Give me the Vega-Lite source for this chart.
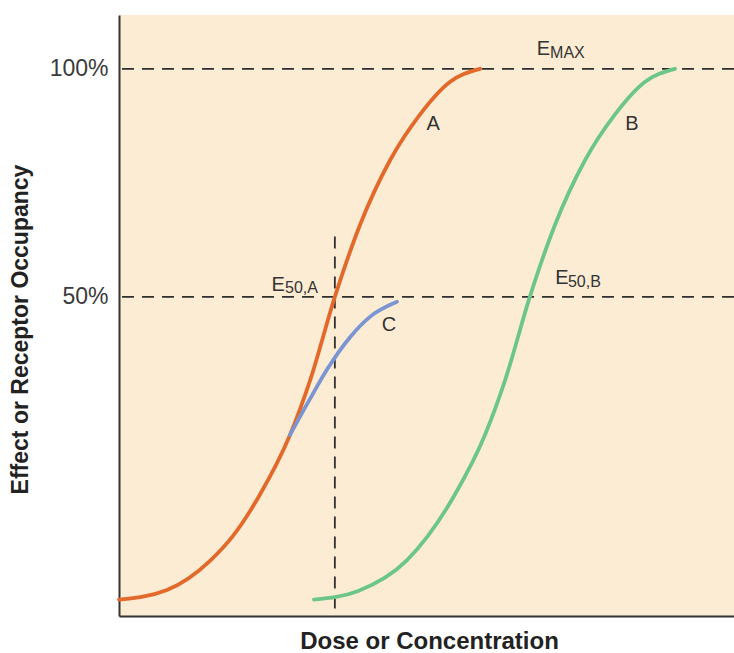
{
  "$schema": "https://vega.github.io/schema/vega-lite/v6.json",
  "width": 615,
  "height": 601,
  "autosize": {"type": "none"},
  "padding": {"left": 119, "top": 15, "right": 0, "bottom": 37},
  "background": "white",
  "config": {
    "view": {"fill": "#fdecd4", "stroke": null},
    "font": "Liberation Sans"
  },
  "datasets": {
    "curves": [
      {"series": "A", "dose": 0, "effect": -16.4},
      {"series": "A", "dose": 7.8, "effect": -14.3},
      {"series": "A", "dose": 14.8, "effect": -7.9},
      {"series": "A", "dose": 18.5, "effect": -2.5},
      {"series": "A", "dose": 22.9, "effect": 6.6},
      {"series": "A", "dose": 27.8, "effect": 19.7},
      {"series": "A", "dose": 31.1, "effect": 31.8},
      {"series": "A", "dose": 35.1, "effect": 50.0},
      {"series": "A", "dose": 39.2, "effect": 65.8},
      {"series": "A", "dose": 44.1, "effect": 80.0},
      {"series": "A", "dose": 48.9, "effect": 89.9},
      {"series": "A", "dose": 53.8, "effect": 97.1},
      {"series": "A", "dose": 58.7, "effect": 100},
      {"series": "B", "dose": 31.7, "effect": -16.4},
      {"series": "B", "dose": 38.9, "effect": -14.5},
      {"series": "B", "dose": 46.8, "effect": -7.8},
      {"series": "B", "dose": 50.2, "effect": -2.5},
      {"series": "B", "dose": 54.6, "effect": 6.6},
      {"series": "B", "dose": 59.5, "effect": 19.7},
      {"series": "B", "dose": 62.8, "effect": 31.8},
      {"series": "B", "dose": 66.8, "effect": 50.0},
      {"series": "B", "dose": 70.9, "effect": 65.8},
      {"series": "B", "dose": 75.8, "effect": 80.0},
      {"series": "B", "dose": 80.6, "effect": 89.9},
      {"series": "B", "dose": 85.5, "effect": 97.1},
      {"series": "B", "dose": 90.4, "effect": 100},
      {"series": "C", "dose": 27.8, "effect": 19.7},
      {"series": "C", "dose": 30.8, "effect": 27.0},
      {"series": "C", "dose": 33.8, "effect": 34.0},
      {"series": "C", "dose": 37.6, "effect": 41.2},
      {"series": "C", "dose": 40.8, "effect": 45.6},
      {"series": "C", "dose": 45.2, "effect": 48.9}
    ],
    "hrefs": [{"y": 100}, {"y": 50}],
    "vref": [{"x": 35.1, "y1": 63.2, "y2": -20}],
    "bigtext": [
      {"label": "A", "x": 51.1, "y": 87.9},
      {"label": "B", "x": 83.4, "y": 87.9},
      {"label": "C", "x": 43.9, "y": 43.9},
      {"label": "E", "x": 69.0, "y": 104.4},
      {"label": "E", "x": 25.9, "y": 52.6},
      {"label": "E", "x": 72.0, "y": 54.1}
    ],
    "subtext": [
      {"label": "MAX", "x": 70.1, "y": 103.5},
      {"label": "50,A", "x": 27.0, "y": 52.0},
      {"label": "50,B", "x": 73.0, "y": 53.2}
    ]
  },
  "layer": [
    {
      "data": {"name": "hrefs"},
      "mark": {"type": "rule", "color": "#2e2e2e", "strokeWidth": 1.8, "strokeDash": [12, 8]},
      "encoding": {
        "y": {"field": "y", "type": "quantitative", "scale": {"domain": [-20, 111.8], "nice": false, "zero": false}}
      }
    },
    {
      "data": {"name": "vref"},
      "mark": {"type": "rule", "color": "#2e2e2e", "strokeWidth": 1.8, "strokeDash": [12, 8]},
      "encoding": {
        "x": {"field": "x", "type": "quantitative"},
        "y": {"field": "y1", "type": "quantitative"},
        "y2": {"field": "y2"}
      }
    },
    {
      "data": {"name": "curves"},
      "mark": {"type": "line", "interpolate": "monotone", "strokeWidth": 3.8, "strokeCap": "round"},
      "encoding": {
        "x": {
          "field": "dose", "type": "quantitative",
          "scale": {"domain": [0, 100], "nice": false, "zero": false},
          "axis": {
            "title": "Dose or Concentration",
            "titleFontSize": 24, "titleFontWeight": "bold", "titleColor": "#222222",
            "titleX": 310, "titleY": 25, "titleBaseline": "middle",
            "labels": false, "ticks": false, "grid": false,
            "domainColor": "#333333", "domainWidth": 2
          }
        },
        "y": {
          "field": "effect", "type": "quantitative",
          "scale": {"domain": [-20, 111.8], "nice": false, "zero": false},
          "axis": {
            "title": "Effect or Receptor Occupancy",
            "titleFontSize": 23, "titleFontWeight": "bold", "titleColor": "#222222",
            "titleAngle": -90, "titleX": -99, "titleY": 314, "titleBaseline": "middle", "titleAlign": "center",
            "values": [50, 100],
            "labelExpr": "datum.value + '%'",
            "labelFontSize": 23, "labelColor": "#3a3a3a", "labelPadding": 11,
            "ticks": false, "grid": false,
            "domainColor": "#333333", "domainWidth": 2
          }
        },
        "color": {
          "field": "series", "type": "nominal",
          "scale": {"domain": ["A", "B", "C"], "range": ["#e2692a", "#6cc689", "#7b95d2"]},
          "legend": null
        },
        "detail": {"field": "series"}
      }
    },
    {
      "data": {"name": "bigtext"},
      "mark": {"type": "text", "fontSize": 20, "color": "#333333", "baseline": "middle", "align": "center"},
      "encoding": {
        "x": {"field": "x", "type": "quantitative"},
        "y": {"field": "y", "type": "quantitative"},
        "text": {"field": "label"}
      }
    },
    {
      "data": {"name": "subtext"},
      "mark": {"type": "text", "fontSize": 16, "color": "#333333", "baseline": "middle", "align": "left"},
      "encoding": {
        "x": {"field": "x", "type": "quantitative"},
        "y": {"field": "y", "type": "quantitative"},
        "text": {"field": "label"}
      }
    }
  ]
}
